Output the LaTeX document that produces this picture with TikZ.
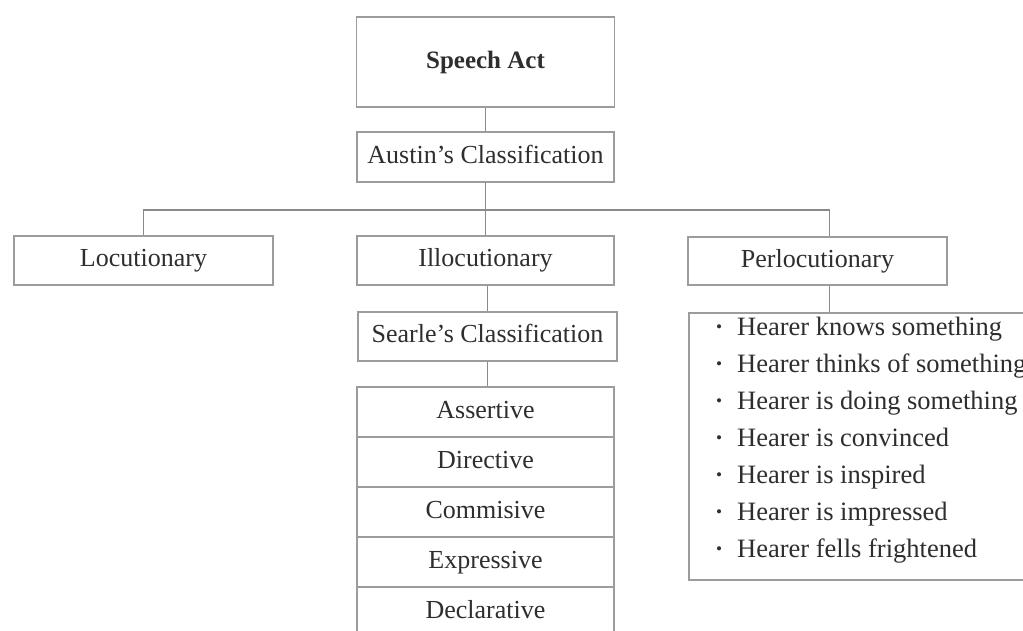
\documentclass[tikz,border=0pt]{standalone}
\usepackage{fontspec}
\setmainfont{Liberation Serif}
\definecolor{txt}{HTML}{2E2E2E}
\definecolor{ln}{HTML}{9C9C9C}
\definecolor{cn}{HTML}{8A8A8A}
\begin{document}
\begin{tikzpicture}[x=1pt,y=-1pt,
  box/.style={draw=ln, line width=1.5pt, inner sep=0pt, text=txt,
    text height=18pt, text depth=6pt,
    font=\fontsize{26}{30}\selectfont},
  row/.style={box, minimum width=257pt, minimum height=50pt},
  conn/.style={draw=cn, line width=1.5pt},
  item/.style={anchor=base west, inner sep=0pt, text=txt,
    font=\fontsize{26.5}{30}\selectfont}]
\clip (0,0) rectangle (1023,630);
\fill[white] (0,0) rectangle (1023,630);
% boxes
\node[box, minimum width=258pt, minimum height=90pt,
  font=\bfseries\fontsize{25}{30}\selectfont] (sa) at (485.5,62) {Speech Act};
\node[box, minimum width=257pt, minimum height=50pt] (au) at (485.5,157) {Austin’s Classification};
\node[box, minimum width=259pt, minimum height=49pt] (lo) at (143.5,260.5) {Locutionary};
\node[box, minimum width=257pt, minimum height=49pt] (il) at (485.5,260.5) {Illocutionary};
\node[box, minimum width=259pt, minimum height=48pt] (pe) at (817.5,261) {Perlocutionary};
\node[box, minimum width=259pt, minimum height=49pt] (se) at (487.5,336.5) {Searle’s Classification};
\node[row] (r1) at (485.5,412) {Assertive};
\node[row] (r2) at (485.5,462) {Directive};
\node[row] (r3) at (485.5,512) {Commisive};
\node[row] (r4) at (485.5,562) {Expressive};
\node[row] (r5) at (485.5,612) {Declarative};
\node[box, anchor=north west, minimum width=400pt, minimum height=267pt] (li) at (688,312) {};
% list items
\foreach \t [count=\i from 0] in {Hearer knows something,Hearer thinks of something,Hearer is doing something,Hearer is convinced,Hearer is inspired,Hearer is impressed,Hearer fells frightened}
  \node[item] (it\i) at (716,335+37*\i) {\makebox[21pt][l]{\raisebox{0.1em}{\scalebox{0.65}{\textbullet}}}\t};
% connectors
\coordinate (bus) at (485.5,210);
\draw[conn] (sa.south) -- (au.north);
\draw[conn] (au.south) -- (bus);
\draw[conn] (lo.north) |- (bus) -| ([xshift=12pt]pe.north);
\draw[conn] (bus) -- (il.north);
\draw[conn] ([xshift=2pt]il.south) -- ([xshift=2pt]il.south |- se.north);
\draw[conn] (se.south) -- (se.south |- r1.north);
\draw[conn] ([xshift=12pt]pe.south) -- ([xshift=12pt]pe.south |- li.north);
\end{tikzpicture}
\end{document}
